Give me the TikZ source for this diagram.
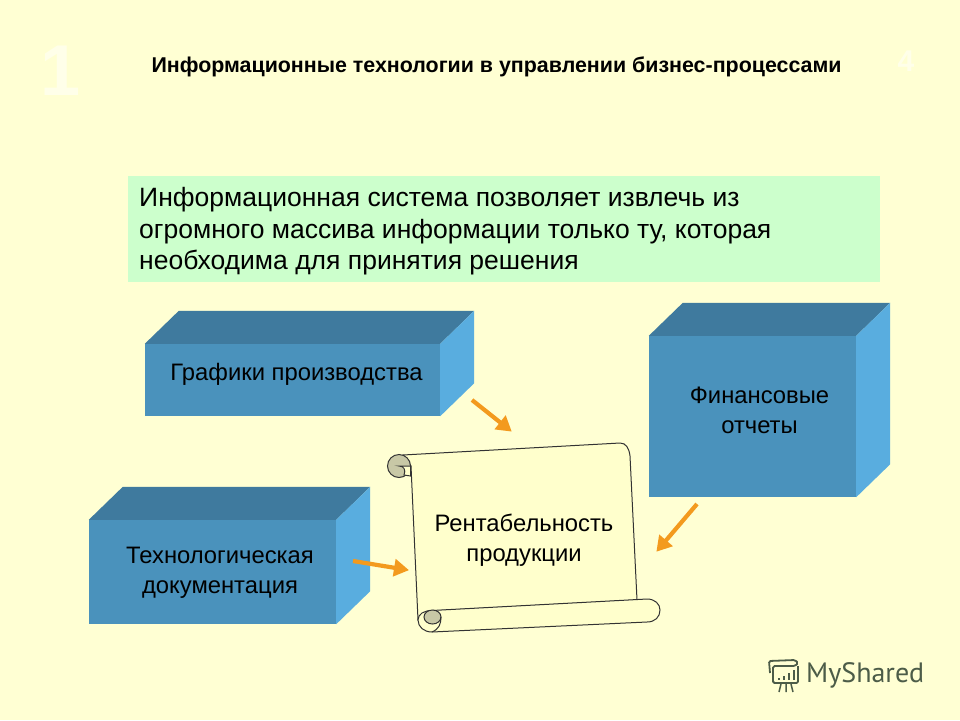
\documentclass[tikz,border=0pt]{standalone}
\usepackage{fontspec}
\setmainfont{Liberation Sans}
\newfontfamily\logofont{PT Sans}
\usetikzlibrary{arrows.meta,positioning}

\definecolor{slidebg}{HTML}{FFFFD3}
\definecolor{notegreen}{HTML}{CCFFCC}
\definecolor{boxfront}{HTML}{4A92BC}
\definecolor{boxtop}{HTML}{3F7A9E}
\definecolor{boxside}{HTML}{59ADDF}
\definecolor{arroworange}{HTML}{F39A1E}
\definecolor{rollgrey}{HTML}{C8C8A6}
\definecolor{scrollpaper}{HTML}{FFFFCC}
\definecolor{logogreen}{HTML}{4C5C48}

\tikzset{
    front/.style = {fill=boxfront, inner sep=0pt, align=center, font=\fontsize{23.8}{30}\selectfont},
    feed/.style = {draw=arroworange, line width=4.2pt, -{Triangle[length=15pt,width=17pt]}, shorten >=-1pt},
    paper/.style = {draw=black!80, line width=1pt, fill=scrollpaper},
    roll/.style = {draw=black!80, line width=1pt, fill=rollgrey},
    ghost/.style = {text=white, opacity=0.5}
}

\begin{document}
\begin{tikzpicture}[x=1pt, y=-1pt]
    \fill[slidebg] (0,0) rectangle (960,720);
    \useasboundingbox (0,0) rectangle (960,720);

    \node[ghost, font=\fontsize{72}{72}\selectfont\bfseries] (one) at (61,71) {1};
    \node[ghost, font=\fontsize{30}{30}\selectfont\bfseries] (four) at (906,61) {4};

    \node[font=\fontsize{21.4}{24}\selectfont\bfseries] (title) at (496.5,67) {Информационные технологии в управлении бизнес-процессами};

    \node[fill=notegreen, minimum width=752pt, minimum height=106pt, inner sep=0pt] (note) at (504,229) {};
    \node[right, align=left, inner sep=0pt, font=\fontsize{26.5}{31.5}\selectfont] (notetext) at (139,231.5)
        {Информационная система позволяет извлечь из\\огромного массива информации только ту, которая\\необходима для принятия решения};

    % front faces
    \node[front, minimum width=295pt, minimum height=72pt] (graphs) at (292.5,380) {};
    \node[front, minimum width=207pt, minimum height=161pt] (finance) at (752.5,416.5) {};
    \node[front, minimum width=247pt, minimum height=104pt] (techdoc) at (212.5,572) {};

    % top and side faces
    \foreach \block in {graphs, finance, techdoc} {
        \fill[boxtop] (\block.north west) -- ++(34,-33) -- ([shift={(34,-33)}]\block.north east) -- (\block.north east) -- cycle;
        \fill[boxside] (\block.north east) -- ++(34,-33) -- ([shift={(34,-33)}]\block.south east) -- (\block.south east) -- cycle;
    }

    \node[front, fill=none] (graphslabel) at (296.5,374) {Графики производства};
    \node[front, fill=none] (financelabel) at (759.5,410) {Финансовые\\отчеты};
    \node[front, fill=none] (techdoclabel) at (220,573) {Технологическая\\документация};

    % scroll
    \draw[paper] (403,455) -- (620,443) .. controls (626,443) and (629,448) .. (630,456) -- (637,600) -- (430,611)
        -- (418,620) -- (411,466) -- cycle;
    \draw[roll] (399,466) circle (11.5);
    \draw[draw=black!80, line width=1pt, fill=scrollpaper] (399,466) .. controls (404,466) and (406,470) .. (404,475)
        -- (410.5,476) -- (410.5,466) -- cycle;
    \draw[paper] (432,610.5) -- (647,599) .. controls (655,599) and (660,604) .. (660,610)
        .. controls (660,617) and (655,622) .. (647,622) -- (432,632)
        .. controls (424,632) and (418,627) .. (418,620) .. controls (418,614) and (424,610.5) .. (432,610.5) -- cycle;
    \draw[roll] (432.5,617) ellipse (8.5 and 7);
    \draw[draw=black!80, line width=1pt] (441,617) .. controls (441,624) and (439,629) .. (432,632);

    \node[align=center, font=\fontsize{23.8}{30}\selectfont] (profit) at (524,540) {Рентабельность\\продукции};

    % arrows
    \coordinate (a1) at (472,400);
    \coordinate (a2) at (511,431);
    \coordinate (b1) at (697,504);
    \coordinate (b2) at (657,551);
    \coordinate (c1) at (353,561);
    \coordinate (c2) at (408,570);
    \draw[feed] (a1) -- (a2);
    \draw[feed] (b1) -- (b2);
    \draw[feed] (c1) -- (c2);

    % logo
    \node[text=logogreen, font=\logofont\fontsize{28}{28}\selectfont, anchor=west, inner sep=0pt] (logo) at (806,675) {MyShared};
    \draw[logogreen, line width=1.8pt, rounded corners=1.5pt] (770,673) -- (769,661) -- (795,660) -- (798,663) -- (795,666) -- (773,666) -- (773,683) -- (798,683) -- (798,666);
    \foreach \px/\pt in {779/2, 784/4, 789/7, 794/10}
        \fill[logogreen] (\px-1.5,680) rectangle (\px+1,680-\pt);
    \draw[logogreen, line width=1.5pt] (781,684) -- (779,692) (786,684) -- (786,692) (791,684) -- (793,692);
\end{tikzpicture}
\end{document}
